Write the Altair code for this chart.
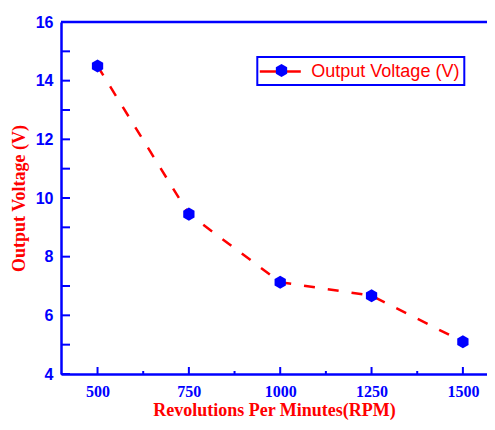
import altair as alt
import pandas as pd

rpm = [500, 750, 1000, 1250, 1500]
voltage = [14.5, 9.45, 7.13, 6.67, 5.1]
series_name = "Output Voltage (V)"

x_major = [500, 750, 1000, 1250, 1500]
x_minor = [625, 875, 1125, 1375]
y_major = [4, 6, 8, 10, 12, 14, 16]
y_minor = [5, 7, 9, 11, 13, 15]

BLUE = "#0000ff"
RED = "#ff0000"
W, H = 426, 352
HEX = "M0,-1L0.866,-0.5L0.866,0.5L0,1L-0.866,0.5L-0.866,-0.5Z"
LEG_LINE = "M-1.333,0L3.222,0"

df = pd.DataFrame({"rpm": rpm, "v": voltage, "series": series_name, "s2": series_name})

xscale = alt.Scale(domain=[400, 1566], nice=False, zero=False)
yscale = alt.Scale(domain=[4, 16], nice=False, zero=False)
xaxis = alt.Axis(values=x_major, format="d", ticks=False, grid=False, domainColor=BLUE,
                 domainWidth=2.5, labelColor=BLUE, labelFont="Liberation Serif",
                 labelFontWeight="bold", labelFontSize=16, labelPadding=9,
                 title="Revolutions Per Minutes(RPM)", titleColor=RED,
                 titleFont="Liberation Serif", titleFontWeight="bold",
                 titleFontSize=18, titlePadding=2)
yaxis = alt.Axis(values=y_major, ticks=False, grid=False, domainColor=BLUE, domainWidth=2.5,
                 labelColor=BLUE, labelFont="Liberation Sans", labelFontWeight="bold",
                 labelFontSize=16, labelPadding=8, title="Output Voltage (V)",
                 titleColor=RED, titleFont="Liberation Serif", titleFontWeight="bold",
                 titleFontSize=18, titlePadding=7)

line = alt.Chart(df).mark_line(strokeWidth=2.5, strokeDash=[11, 13], interpolate="linear").encode(
    x=alt.X("rpm:Q", scale=xscale, axis=xaxis),
    y=alt.Y("v:Q", scale=yscale, axis=yaxis),
    color=alt.Color("series:N", scale=alt.Scale(range=[RED]),
                    legend=alt.Legend(orient="none", legendX=196.3, legendY=35, title=None,
                                      symbolType=LEG_LINE, symbolSize=324, symbolStrokeWidth=2.5,
                                      symbolStrokeColor=RED, symbolDash=[1, 0],
                                      labelFont="Liberation Sans", labelFontSize=18,
                                      labelColor=RED, labelOffset=29,
                                      strokeColor=BLUE, padding=4)),
)

points = alt.Chart(df).mark_point(filled=True, fill=BLUE, size=170, opacity=1, strokeWidth=0).encode(
    x=alt.X("rpm:Q", scale=xscale, axis=xaxis),
    y=alt.Y("v:Q", scale=yscale, axis=yaxis),
    shape=alt.Shape("s2:N", scale=alt.Scale(range=[HEX]),
                    legend=alt.Legend(orient="none", legendX=209.5, legendY=37.5, title=None,
                                      symbolSize=170, symbolFillColor=BLUE, symbolStrokeWidth=0,
                                      symbolOpacity=1, labelExpr="''", labelFontSize=1,
                                      labelOffset=0, padding=4)),
)

xmaj = alt.Chart(pd.DataFrame({"t": x_major})).mark_rule(color=BLUE, strokeWidth=2).encode(
    x=alt.X("t:Q", scale=xscale, axis=xaxis), y=alt.value(H), y2=alt.value(H - 7))
xmin = alt.Chart(pd.DataFrame({"t": x_minor})).mark_rule(color=BLUE, strokeWidth=2).encode(
    x=alt.X("t:Q", scale=xscale, axis=xaxis), y=alt.value(H), y2=alt.value(H - 3))
ymaj = alt.Chart(pd.DataFrame({"t": y_major})).mark_rule(color=BLUE, strokeWidth=2).encode(
    y=alt.Y("t:Q", scale=yscale, axis=yaxis), x=alt.value(0), x2=alt.value(9))
ymin = alt.Chart(pd.DataFrame({"t": y_minor})).mark_rule(color=BLUE, strokeWidth=2).encode(
    y=alt.Y("t:Q", scale=yscale, axis=yaxis), x=alt.value(0), x2=alt.value(9))
top = alt.Chart(pd.DataFrame({"t": [16]})).mark_rule(color=BLUE, strokeWidth=2.5).encode(
    y=alt.Y("t:Q", scale=yscale, axis=yaxis), x=alt.value(0), x2=alt.value(W))

chart = alt.layer(xmaj, xmin, ymaj, ymin, top, line, points).properties(
    width=W, height=H,
    autosize=alt.AutoSizeParams(type="none"),
    padding={"left": 53, "top": 14, "right": 0, "bottom": 48},
    background="white",
).configure_view(strokeWidth=0).configure_legend(strokeWidth=2)

chart.save("out.html", embed_options={"renderer": "svg", "actions": False})
